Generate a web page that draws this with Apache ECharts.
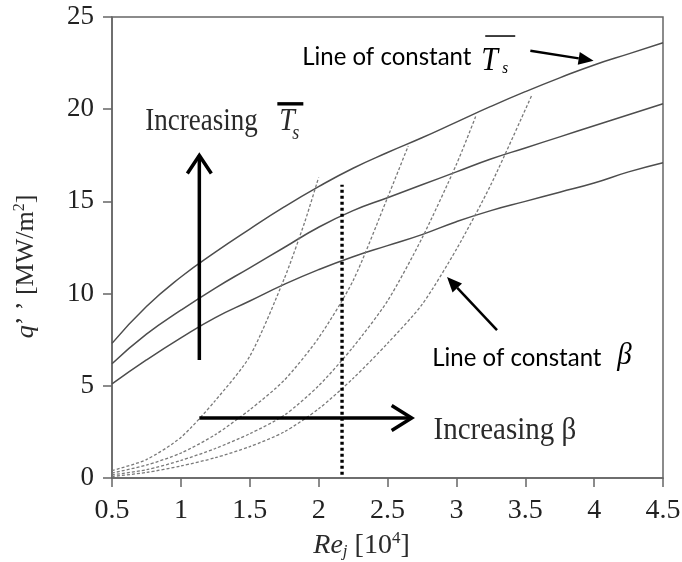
<!DOCTYPE html>
<html>
<head>
<meta charset="utf-8">
<script src="https://cdn.jsdelivr.net/npm/echarts@6/dist/echarts.min.js"></script>
<style>
  html, body { margin: 0; padding: 0; background: #fff; }
  #chart { width: 682px; height: 562px; }
</style>
</head>
<body>
<div id="chart"></div>
<script>
// Fonts
const SERIF = "'Liberation Serif','Times New Roman',serif";
const SANS = "Lato,'Noto Sans',sans-serif";

// Axis ticks
const xTicks = [0.5, 1, 1.5, 2, 2.5, 3, 3.5, 4, 4.5];
const yTicks = [0, 5, 10, 15, 20, 25];

// Lines of constant surface temperature (Re_j in 10^4, q'' in MW/m^2)
const reTs = [0.5, 0.75, 1.0, 1.25, 1.5, 1.75, 2.0, 2.25, 2.5, 2.75, 3.0, 3.25, 3.5, 3.75, 4.0, 4.25, 4.5];
const qTsHigh = [7.3, 9.3, 10.9, 12.25, 13.5, 14.7, 15.8, 16.8, 17.65, 18.45, 19.3, 20.15, 20.95, 21.7, 22.4, 23.0, 23.6];
const qTsMid  = [6.2, 7.8, 9.1, 10.3, 11.4, 12.5, 13.6, 14.5, 15.2, 15.9, 16.6, 17.3, 17.9, 18.5, 19.1, 19.7, 20.3];
const qTsLow  = [5.1, 6.4, 7.6, 8.7, 9.6, 10.5, 11.3, 12.0, 12.6, 13.2, 13.9, 14.5, 15.0, 15.5, 16.0, 16.6, 17.1];

// Lines of constant beta
const reBeta1 = [0.5, 0.75, 1.0, 1.25, 1.5, 1.75, 1.9, 2.0];
const qBeta1  = [0.4, 1.0, 2.2, 4.2, 6.6, 10.8, 13.9, 16.3];
const reBeta2 = [0.5, 0.75, 1.0, 1.25, 1.5, 1.75, 2.0, 2.25, 2.5, 2.65];
const qBeta2  = [0.27, 0.7, 1.35, 2.35, 3.7, 5.3, 7.6, 10.7, 15.2, 18.0];
const reBeta3 = [0.5, 0.75, 1.0, 1.25, 1.5, 1.75, 2.0, 2.25, 2.5, 2.75, 3.0, 3.14];
const qBeta3  = [0.17, 0.45, 0.95, 1.6, 2.4, 3.4, 5.0, 7.1, 9.6, 13.0, 17.0, 19.6];
const reBeta4 = [0.5, 0.75, 1.0, 1.25, 1.5, 1.75, 2.0, 2.25, 2.5, 2.75, 3.0, 3.25, 3.55];
const qBeta4  = [0.08, 0.3, 0.65, 1.1, 1.7, 2.5, 3.75, 5.4, 7.3, 9.4, 12.4, 15.9, 20.8];

// Vertical reference line at a chosen Reynolds number
const reRef = [2.17, 2.17];
const qRef  = [0.17, 15.9];

function pairs(xs, ys) { return xs.map((x, i) => [x, ys[i]]); }

// ---- annotation drawing helpers (pixel space, from api.coord) ----
function unit(a, b) {
  const dx = b[0] - a[0], dy = b[1] - a[1];
  const L = Math.hypot(dx, dy);
  return [dx / L, dy / L];
}
function openArrow(a, b, w, len, half) {
  const [ux, uy] = unit(a, b);
  const nx = -uy, ny = ux;
  const bx = b[0] - ux * len, by = b[1] - uy * len;
  return [
    { type: 'line', shape: { x1: a[0], y1: a[1], x2: b[0] - ux * 2, y2: b[1] - uy * 2 },
      style: { stroke: '#000', lineWidth: w } },
    { type: 'polyline', shape: { points: [[bx + nx * half, by + ny * half], [b[0] - ux * 2, b[1] - uy * 2], [bx - nx * half, by - ny * half]] },
      style: { stroke: '#000', lineWidth: w, fill: null, lineJoin: 'miter' } }
  ];
}
function filledArrow(a, b, w, len, half) {
  const [ux, uy] = unit(a, b);
  const nx = -uy, ny = ux;
  const bx = b[0] - ux * len, by = b[1] - uy * len;
  return [
    { type: 'line', shape: { x1: a[0], y1: a[1], x2: bx, y2: by },
      style: { stroke: '#000', lineWidth: w } },
    { type: 'polygon', shape: { points: [[bx + nx * half, by + ny * half], b, [bx - nx * half, by - ny * half]] },
      style: { fill: '#000' } }
  ];
}
// Text placed by its baseline; sy stretches the glyphs vertically about the baseline
function txt(x, baseline, text, size, family, italic, color, sy) {
  return {
    type: 'text', x: x, y: baseline,
    scaleY: sy || 1, originX: 0, originY: 0,
    style: {
      text: text, x: 0, y: -0.3 * size, fontSize: size, fontFamily: family,
      fontStyle: italic ? 'italic' : 'normal',
      fill: color, align: 'left', verticalAlign: 'middle'
    }
  };
}
function bar(x1, x2, y, w) {
  return { type: 'line', shape: { x1: x1, y1: y, x2: x2, y2: y }, style: { stroke: '#000', lineWidth: w } };
}

function renderNotes(params, api) {
  const P = (x, y) => api.coord([x, y]);
  const kids = [];

  // Increasing surface temperature: upward arrow
  kids.push(...openArrow(P(1.134, 6.4), P(1.134, 17.6), 3.5, 20, 12));
  // Increasing beta: rightward arrow
  kids.push(...openArrow(P(1.134, 3.25), P(2.69, 3.25), 3.5, 22, 12.5));

  // "Increasing T̄s"
  const a1 = P(0.742, 18.8);
  kids.push(txt(a1[0], a1[1], 'Increasing', 27, SERIF, false, '#2a2a2a', 1.15));
  kids.push(txt(a1[0] + 134, a1[1], 'T', 28, SERIF, true, '#2a2a2a', 1.15));
  kids.push(txt(a1[0] + 147, a1[1] + 8, 's', 18, SERIF, true, '#2a2a2a', 1.15));
  kids.push(bar(a1[0] + 132, a1[0] + 158, a1[1] - 27.5, 3.4));

  // "Increasing β"
  const a2 = P(2.834, 2.07);
  kids.push(txt(a2[0], a2[1], 'Increasing β', 29, SERIF, false, '#2a2a2a', 1.12));

  // "Line of constant T̄s" with pointer to the upper curve
  const a3 = P(1.881, 22.45);
  kids.push(txt(a3[0], a3[1], 'Line of constant', 24, SANS, false, '#000', 1.08));
  kids.push(txt(a3[0] + 179, a3[1] + 7, 'T', 30, SERIF, true, '#000', 1.1));
  kids.push(txt(a3[0] + 200, a3[1] + 10, 's', 15, SERIF, true, '#000', 1.1));
  kids.push(bar(a3[0] + 183, a3[0] + 213, a3[1] - 28, 1.5));
  kids.push(...filledArrow(P(3.537, 23.17), P(3.996, 22.63), 2.5, 15, 6.5));

  // "Line of constant β" with pointer to a dashed curve
  const a4 = P(2.825, 6.13);
  kids.push(txt(a4[0], a4[1], 'Line of constant', 24, SANS, false, '#000', 1.08));
  kids.push(txt(a4[0] + 185, a4[1], 'β', 29, SERIF, true, '#000', 1.1));
  kids.push(...filledArrow(P(3.295, 8.02), P(2.932, 10.9), 2.5, 15, 6.5));

  return { type: 'group', children: kids };
}

const solidStyle = { color: '#4d4d4d', width: 1.5 };
const dashStyle = { color: '#7a7a7a', width: 1.3, type: [3, 2] };

function curve(name, xs, ys, style, smooth) {
  return {
    name: name, type: 'line', data: pairs(xs, ys),
    showSymbol: false, symbol: 'none', smooth: smooth,
    lineStyle: style, silent: true, z: 3, animation: false
  };
}

const option = {
  animation: false,
  backgroundColor: '#fff',
  grid: {
    left: 112, right: 19, top: 17, bottom: 84,
    outerBoundsMode: 'none', containLabel: false,
    show: true, borderColor: '#666', borderWidth: 1.5, backgroundColor: 'transparent'
  },
  xAxis: {
    type: 'value', min: 0.5, max: 4.5, interval: 0.5,
    axisLine: { show: true, onZero: false, lineStyle: { color: '#666', width: 1.5 } },
    axisTick: { show: true, inside: false, length: 9, lineStyle: { color: '#666', width: 1.5 } },
    splitLine: { show: false },
    axisLabel: {
      fontFamily: SERIF, fontSize: 28, color: '#222', margin: 19,
      formatter: v => { const t = xTicks.find(k => Math.abs(k - v) < 1e-9); return t === undefined ? '' : String(t); }
    },
    name: '{i|Re}{sub|j}{n| [10}{sup|4}{n|]}',
    nameLocation: 'middle', nameGap: 50,
    nameTextStyle: {
      padding: [0, 52, 0, 0],
      rich: {
        i: { fontFamily: SERIF, fontStyle: 'italic', fontSize: 28, color: '#2a2a2a' },
        sub: { fontFamily: SERIF, fontStyle: 'italic', fontSize: 17, color: '#2a2a2a', padding: [12, 0, 0, 0] },
        n: { fontFamily: SERIF, fontSize: 28, color: '#2a2a2a' },
        sup: { fontFamily: SERIF, fontSize: 17, color: '#2a2a2a', padding: [0, 0, 14, 0] }
      }
    }
  },
  yAxis: {
    type: 'value', min: 0, max: 25, interval: 5,
    axisLine: { show: true, onZero: false, lineStyle: { color: '#666', width: 1.5 } },
    axisTick: { show: true, inside: false, length: 9, lineStyle: { color: '#666', width: 1.5 } },
    splitLine: { show: false },
    axisLabel: {
      fontFamily: SERIF, fontSize: 27, color: '#222', margin: 18,
      formatter: v => { const t = yTicks.find(k => Math.abs(k - v) < 1e-9); return t === undefined ? '' : String(t); }
    },
    name: '{i|q}{n|’ ’ [MW/m}{sup|2}{n|]}',
    nameLocation: 'middle', nameGap: 72, nameRotate: 90,
    nameTextStyle: {
      padding: [0, 38, 0, 0],
      rich: {
        i: { fontFamily: SERIF, fontStyle: 'italic', fontSize: 26, color: '#2a2a2a' },
        n: { fontFamily: SERIF, fontSize: 26, color: '#2a2a2a' },
        sup: { fontFamily: SERIF, fontSize: 16, color: '#2a2a2a', padding: [0, 0, 12, 0] }
      }
    }
  },
  series: [
    curve('Ts high', reTs, qTsHigh, solidStyle, 0.5),
    curve('Ts mid', reTs, qTsMid, solidStyle, 0.5),
    curve('Ts low', reTs, qTsLow, solidStyle, 0.5),
    curve('beta 1', reBeta1, qBeta1, dashStyle, 0.25),
    curve('beta 2', reBeta2, qBeta2, dashStyle, 0.25),
    curve('beta 3', reBeta3, qBeta3, dashStyle, 0.25),
    curve('beta 4', reBeta4, qBeta4, dashStyle, 0.25),
    {
      name: 'reference Re', type: 'line', data: pairs(reRef, qRef),
      showSymbol: false, symbol: 'none', silent: true, z: 4,
      lineStyle: { color: '#000', width: 3.4, type: [3, 3] }
    },
    {
      name: 'notes', type: 'custom', coordinateSystem: 'cartesian2d',
      data: [[0.5, 0]], silent: true, z: 10, clip: false,
      renderItem: renderNotes
    }
  ]
};

const chart = echarts.init(document.getElementById('chart'));
chart.setOption(option);
</script>
</body>
</html>
